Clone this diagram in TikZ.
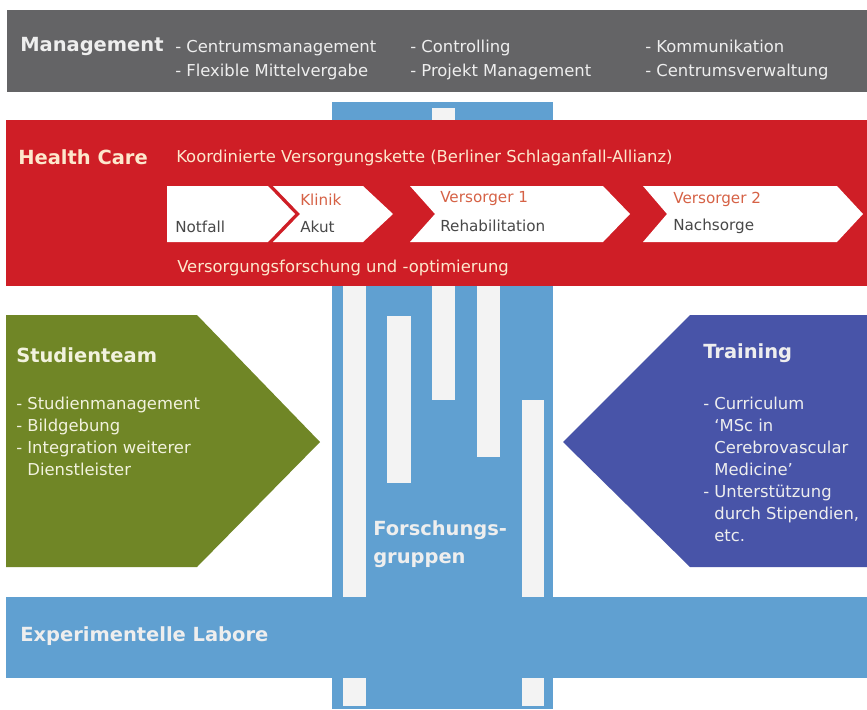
\documentclass[tikz,border=0pt]{standalone}
\usepackage{fontspec}
\setmainfont{DejaVu Sans}
\usepackage{tikz}
\usetikzlibrary{shapes,arrows}

\begin{document}
\begin{tikzpicture}[x=0.75pt,y=0.75pt,yscale=-1,xscale=1,
    head/.style={anchor=west,inner sep=0pt,font=\bfseries\fontsize{14.6}{17}\selectfont},
    body/.style={anchor=west,inner sep=0pt,align=left,font=\fontsize{12.3}{16.5}\selectfont},
    chev/.style={anchor=west,inner sep=0pt,font=\fontsize{11.4}{13}\selectfont},
    stripe/.style={fill={rgb, 255:red, 243; green, 243; blue, 243 }},
    cream/.style={text={rgb, 255:red, 253; green, 232; blue, 205 }},
    light/.style={text={rgb, 255:red, 238; green, 238; blue, 238 }},
    orangelbl/.style={text={rgb, 255:red, 214; green, 98; blue, 70 }},
    graylbl/.style={text={rgb, 255:red, 72; green, 72; blue, 72 }}]
    \useasboundingbox (0,0) rectangle (867,710);
    \fill [white] (0,0) rectangle (867,710);

    %Shape: Rectangle (Forschungsgruppen column)
    \draw  [draw=none,fill={rgb, 255:red, 96; green, 160; blue, 209 }] (332,102) -- (553,102) -- (553,709) -- (332,709) -- cycle ;
    %Shape: Rectangle (stripes)
    \draw  [draw=none,stripe] (343,280) -- (366,280) -- (366,706) -- (343,706) -- cycle ;
    \draw  [draw=none,stripe] (387,316) -- (411,316) -- (411,483) -- (387,483) -- cycle ;
    \draw  [draw=none,stripe] (432,108) -- (455,108) -- (455,400) -- (432,400) -- cycle ;
    \draw  [draw=none,stripe] (477,280) -- (500,280) -- (500,457) -- (477,457) -- cycle ;
    \draw  [draw=none,stripe] (522,400) -- (544,400) -- (544,706) -- (522,706) -- cycle ;

    %Shape: Rectangle (Management)
    \draw  [draw=none,fill={rgb, 255:red, 100; green, 100; blue, 102 }] (7,10) -- (867,10) -- (867,92) -- (7,92) -- cycle ;
    %Shape: Rectangle (Health Care)
    \draw  [draw=none,fill={rgb, 255:red, 207; green, 30; blue, 38 }] (6,120) -- (867,120) -- (867,286) -- (6,286) -- cycle ;
    %Shape: Chevrons
    \draw  [draw=none,fill=white] (167,186) -- (268,186) -- (295,214) -- (268,242) -- (167,242) -- cycle ;
    \draw  [draw=none,fill=white] (273,186) -- (363,186) -- (393,214) -- (363,242) -- (273,242) -- (300,214) -- cycle ;
    \draw  [draw=none,fill=white] (410,186) -- (603,186) -- (630,214) -- (603,242) -- (410,242) -- (435,214) -- cycle ;
    \draw  [draw=none,fill=white] (643,186) -- (837,186) -- (863,214) -- (837,242) -- (643,242) -- (667,214) -- cycle ;

    %Shape: Arrow (Studienteam)
    \draw  [draw=none,fill={rgb, 255:red, 112; green, 134; blue, 38 }] (6,315) -- (197,315) -- (320,442) -- (197,567) -- (6,567) -- cycle ;
    %Shape: Arrow (Training)
    \draw  [draw=none,fill={rgb, 255:red, 72; green, 84; blue, 168 }] (867,315) -- (690,315) -- (563,442) -- (690,567) -- (867,567) -- cycle ;

    %Shape: Rectangle (Experimentelle Labore)
    \draw  [draw=none,fill={rgb, 255:red, 96; green, 160; blue, 209 }] (6,597) -- (867,597) -- (867,678) -- (6,678) -- cycle ;

    % Text Node
    \draw (20,47) node [head,light] (mgmt) {Management};
    % Text Node
    \draw (175,60) node [body,light,font=\fontsize{12.3}{18}\selectfont] (mgmtA) {- Centrumsmanagement\\- Flexible Mittelvergabe};
    % Text Node
    \draw (410,60) node [body,light,font=\fontsize{12.3}{18}\selectfont] (mgmtB) {- Controlling\\- Projekt Management};
    % Text Node
    \draw (645,60) node [body,light,font=\fontsize{12.3}{18}\selectfont] (mgmtC) {- Kommunikation\\- Centrumsverwaltung};

    % Text Node
    \draw (18,157) node [head,cream] (hc) {Health Care};
    % Text Node
    \draw (176,158) node [body,cream] (kette) {Koordinierte Versorgungskette (Berliner Schlaganfall-Allianz)};
    % Text Node
    \draw (175,227) node [chev,graylbl] (notfall) {Notfall};
    % Text Node
    \draw (300,200) node [chev,orangelbl] (klinik) {Klinik};
    % Text Node
    \draw (300,227) node [chev,graylbl] (akut) {Akut};
    % Text Node
    \draw (440,199) node [chev,orangelbl] (vers1) {Versorger 1};
    % Text Node
    \draw (440,226) node [chev,graylbl] (reha) {Rehabilitation};
    % Text Node
    \draw (673,199) node [chev,orangelbl] (vers2) {Versorger 2};
    % Text Node
    \draw (673,226) node [chev,graylbl] (nachsorge) {Nachsorge};
    % Text Node
    \draw (177,268) node [body,cream] (vfo) {Versorgungsforschung und -optimierung};

    % Text Node
    \draw (16,355) node [head,text={rgb, 255:red, 242; green, 242; blue, 222 }] (studien) {Studienteam};
    % Text Node
    \draw (16,436) node [body,text={rgb, 255:red, 242; green, 242; blue, 222 }] (studlist) {- Studienmanagement\\- Bildgebung\\- Integration weiterer\\\hphantom{- }Dienstleister};

    % Text Node
    \draw (703,353) node [head,light] (training) {Training};
    % Text Node
    \draw (703,469) node [body,light] (trainlist) {- Curriculum\\\hphantom{- }`MSc in\\\hphantom{- }Cerebrovascular\\\hphantom{- }Medicine'\\- Unterstützung\\\hphantom{- }durch Stipendien,\\\hphantom{- }etc.};

    % Text Node
    \draw (373,544) node [head,align=left,light,font=\bfseries\fontsize{14.6}{21}\selectfont] (forsch) {Forschungs-\\gruppen};
    % Text Node
    \draw (20,636) node [head,light] (labore) {Experimentelle Labore};

\end{tikzpicture}
\end{document}
